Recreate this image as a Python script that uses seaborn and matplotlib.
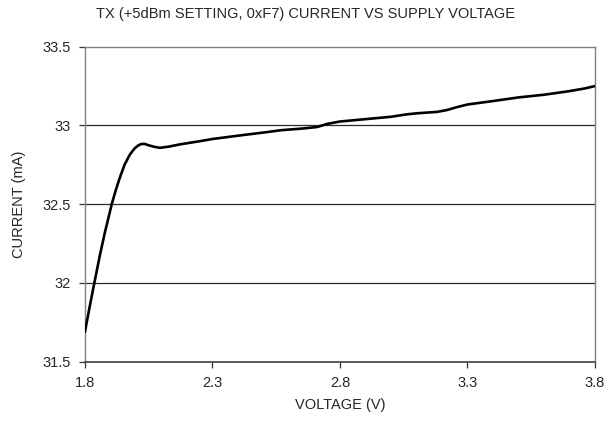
import numpy as np
import pandas as pd
import seaborn as sns
import matplotlib.pyplot as plt

# values
voltage = [1.80, 1.815, 1.833, 1.846, 1.859, 1.878, 1.905, 1.92, 1.937, 1.955,
           1.976, 1.995, 2.008, 2.02, 2.034, 2.048, 2.07, 2.094, 2.13, 2.173,
           2.25, 2.30, 2.40, 2.50, 2.57, 2.65, 2.71, 2.75, 2.80, 2.90,
           3.00, 3.06, 3.10, 3.18, 3.22, 3.26, 3.30, 3.40, 3.50, 3.60,
           3.70, 3.76, 3.80]
current = [31.69, 31.82, 31.97, 32.075, 32.18, 32.32, 32.50, 32.585, 32.67, 32.75,
           32.815, 32.855, 32.872, 32.882, 32.883, 32.875, 32.865, 32.858, 32.866, 32.88,
           32.90, 32.914, 32.935, 32.955, 32.97, 32.98, 32.99, 33.01, 33.025, 33.04,
           33.055, 33.07, 33.077, 33.086, 33.098, 33.117, 33.133, 33.155, 33.178, 33.195,
           33.218, 33.235, 33.25]

xticks = [1.8, 2.3, 2.8, 3.3, 3.8]
yticks = [31.5, 32, 32.5, 33, 33.5]
ytick_labels = ['31.5', '32', '32.5', '33', '33.5']

df = pd.DataFrame({'voltage': voltage, 'current': current})

sns.set_style('white')
plt.rcParams['font.family'] = ['Liberation Sans', 'DejaVu Sans']

fig = plt.figure(figsize=(6.1, 4.23), dpi=100)
ax = fig.add_axes([0.1393, 0.1449, 0.8361, 0.7447])

for y in [32, 32.5, 33]:
    ax.axhline(y, color='#2a2a2a', linewidth=0.9, zorder=1)

sns.lineplot(data=df, x='voltage', y='current', ax=ax, color='black',
             linewidth=1.9, zorder=3, solid_joinstyle='round',
             solid_capstyle='round')

ax.set_xlim(1.8, 3.8)
ax.set_ylim(31.5, 33.5)
ax.set_xticks(xticks)
ax.set_xticklabels([str(v) for v in xticks])
ax.set_yticks(yticks)
ax.set_yticklabels(ytick_labels)
ax.tick_params(axis='both', direction='out', length=4, width=0.9,
               color='#333333', labelsize=10.5, pad=6, left=True, bottom=True)

for side in ['top', 'right', 'left']:
    ax.spines[side].set_color('#808080')
    ax.spines[side].set_linewidth(1.0)
ax.spines['bottom'].set_color('#404040')
ax.spines['bottom'].set_linewidth(1.2)

ax.set_xlabel('VOLTAGE (V)', fontsize=10.5, labelpad=6)
ax.set_ylabel('CURRENT (mA)', fontsize=10.5, labelpad=12)
fig.text(0.5, 0.968, 'TX (+5dBm SETTING, 0xF7) CURRENT VS SUPPLY VOLTAGE',
         ha='center', va='center', fontsize=10.5)

fig.savefig('out.png', dpi=100)
